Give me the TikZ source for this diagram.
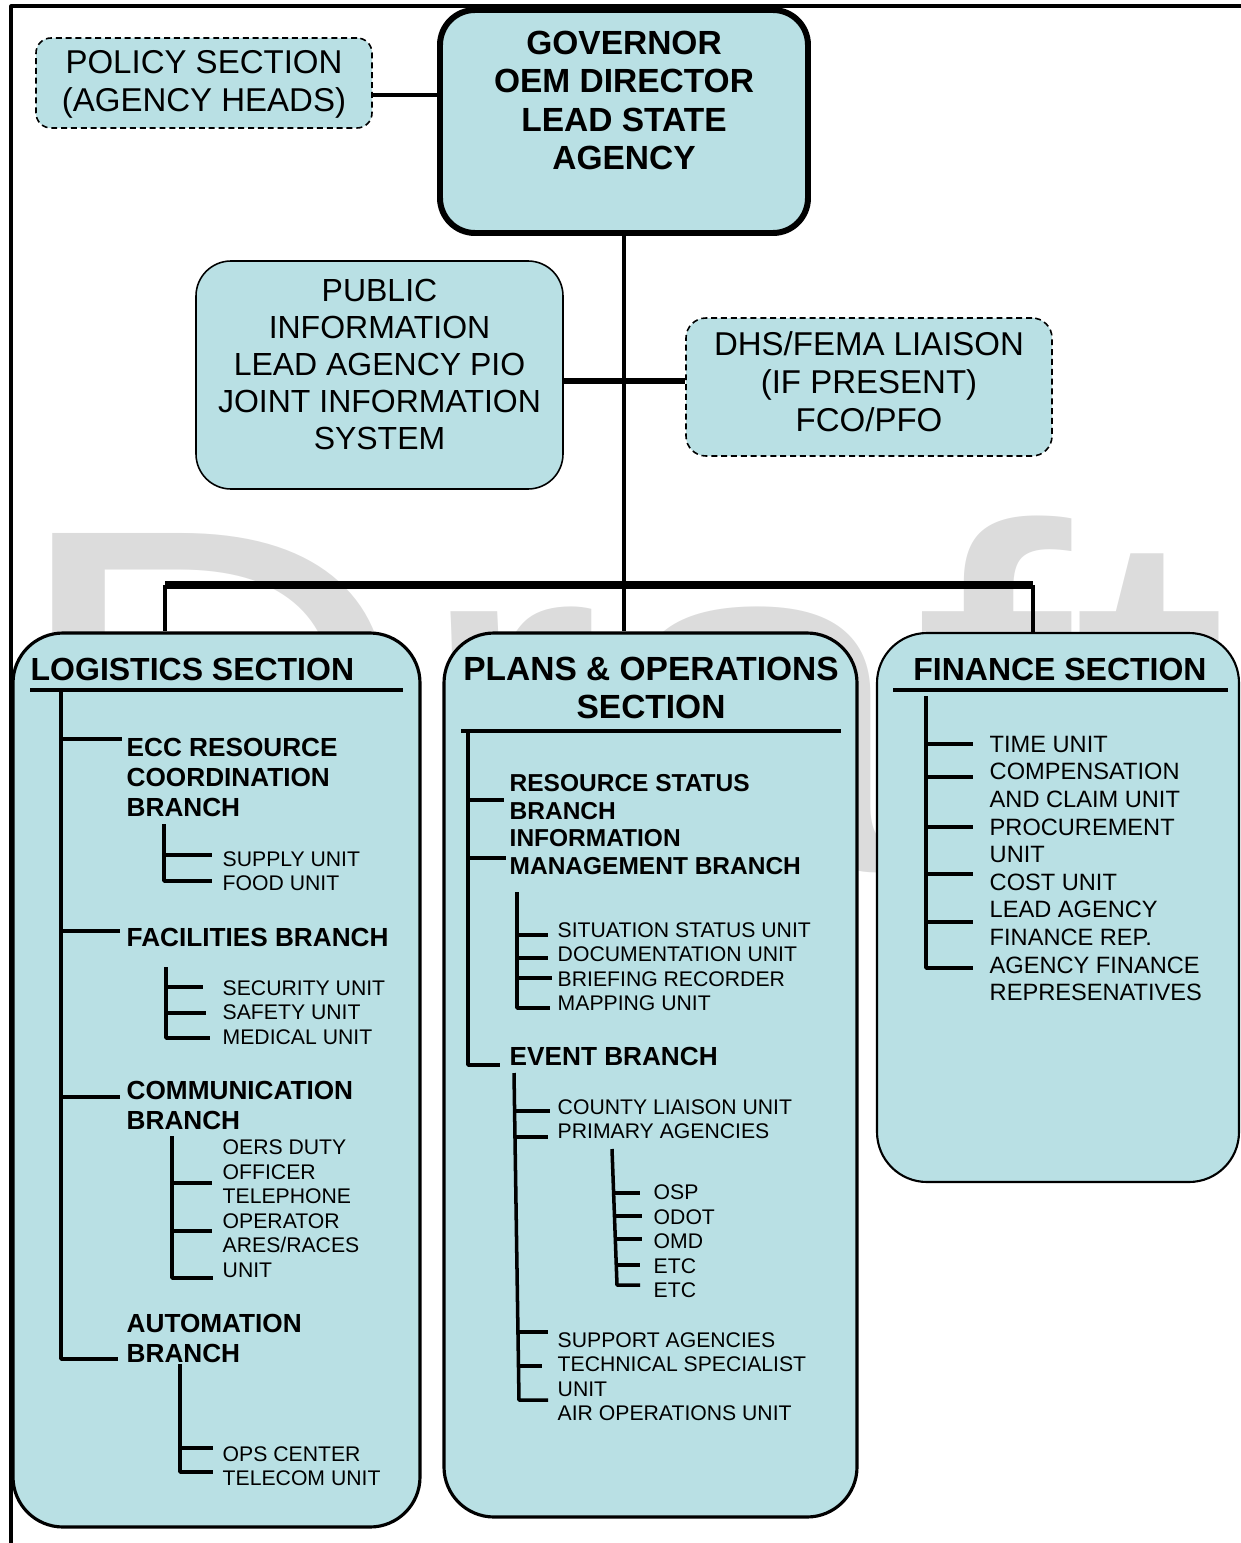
\documentclass[tikz,border=0pt]{standalone}
\usepackage{fontspec}
\setmainfont{Liberation Sans}
\usetikzlibrary{calc}
\definecolor{boxfill}{HTML}{B9E0E4}
\definecolor{wmark}{HTML}{DCDCDC}

\newcommand\topfont{\fontsize{9.39pt}{10.81pt}\selectfont}
\newcommand\piofont{\fontsize{9.10pt}{10.53pt}\selectfont}
\newcommand\govfont{\bfseries\fontsize{9.53pt}{10.95pt}\selectfont}
\newcommand\hdrfont{\bfseries\fontsize{9.10pt}{10.81pt}\selectfont}
\newcommand\opsfont{\bfseries\fontsize{9.53pt}{10.81pt}\selectfont}
\newcommand\brfont{\bfseries\fontsize{7.45pt}{8.54pt}\selectfont}
\newcommand\brfontb{\bfseries\fontsize{6.97pt}{7.97pt}\selectfont}
\newcommand\unfont{\fontsize{6.03pt}{6.97pt}\selectfont}
\newcommand\finfont{\fontsize{6.72pt}{7.85pt}\selectfont}

\begin{document}
\begin{tikzpicture}[x=0.1mm, y=-0.1mm, line join=round,
  panel/.style={draw, fill=boxfill, inner sep=0pt},
  dashbox/.style={panel, line width=0.45pt, dash pattern=on 1.7pt off 1.1pt, rounded corners=#1},
  section/.style={panel, line width=0.9pt, rounded corners=5mm},
  link/.style={line width=1.2pt},
  treeline/.style={line width=1pt},
  rule/.style={line width=1.15pt},
  txt/.style={inner sep=0pt, align=left, anchor=west},
  ctxt/.style={inner sep=0pt, align=center},
  brtxt/.style={txt, font=\brfont},
  untxt/.style={txt, font=\unfont}]
  \useasboundingbox (0,0) rectangle (1241,1543);

  % faint watermark behind everything
  \node[anchor=base west, inner sep=0pt, text=wmark,
        font=\fontsize{139.4pt}{139.4pt}\selectfont] (wm) at (6,870)
        {\scalebox{1.15}[1]{Draft}};

  % page frame
  \draw[line width=0.9pt] (11,1543) -- (11,6) -- (1241,6);

  % top level
  \node[panel, line width=1.7pt, rounded corners=3.5mm,
        minimum width=36.8mm, minimum height=22.3mm] (gov) at (624,121.5) {};
  \node[ctxt, font=\govfont] (govlbl) at (624,100.5)
        {GOVERNOR\\OEM DIRECTOR\\LEAD STATE\\AGENCY};
  \node[dashbox=1.5mm, minimum width=33.6mm, minimum height=9mm] (pol) at (204,83) {};
  \node[ctxt, font=\topfont] (pollbl) at (204,84.5) {POLICY SECTION\\(AGENCY HEADS)};
  \node[panel, line width=0.45pt, rounded corners=3.5mm,
        minimum width=36.7mm, minimum height=22.8mm] (pio) at (379.5,375) {};
  \node[ctxt, font=\piofont] (piolbl) at (379.5,364.5)
        {PUBLIC\\INFORMATION\\LEAD AGENCY PIO\\JOINT INFORMATION\\SYSTEM};
  \node[dashbox=2mm, minimum width=36.6mm, minimum height=13.8mm] (dhs) at (869,387) {};
  \node[ctxt, font=\topfont] (dhslbl) at (869,381.5)
        {DHS/FEMA LIAISON\\(IF PRESENT)\\FCO/PFO};

  % the three sections
  \node[section, minimum width=40.7mm, minimum height=89.4mm] (log) at (216.5,1080) {};
  \node[section, minimum width=41.3mm, minimum height=88.4mm] (ops) at (650.5,1075) {};
  \node[section, line width=0.6pt, minimum width=36.2mm, minimum height=54.9mm] (fin) at (1058,907.5) {};

  % connectors
  \draw[link] (pol.east |- 0,95) -- (gov.west |- 0,95);
  \draw[link] (gov.south) -- (gov.south |- ops.north);
  \draw[line width=1.7pt] (pio.east |- 0,381) -- (dhs.west |- 0,381);
  \coordinate (bl) at (165,585);
  \coordinate (br) at (1033,585);
  \draw[line width=2pt] (bl) -- (br);
  \draw[link] (bl) -- (bl |- log.north);
  \draw[link] (br) -- (br |- fin.north);

  % logistics
  \node[txt, font=\hdrfont] (loghdr) at (30,669) {LOGISTICS SECTION};
  \draw[rule] (30,690) -- (403,690);
  \draw[treeline] (61,692) -- (61,1359) -- (118,1359);
  \foreach \y/\e in {739/122, 931/120, 1097/120}
    \draw[treeline] (61,\y) -- (\e,\y);
  \node[brtxt] (ecc) at (126,777) {ECC RESOURCE\\COORDINATION\\BRANCH};
  \node[brtxt] (fac) at (126,937) {FACILITIES BRANCH};
  \node[brtxt] (com) at (126,1105) {COMMUNICATION\\BRANCH};
  \node[brtxt] (aut) at (126,1338) {AUTOMATION\\BRANCH};

  \draw[treeline] (164,824) -- (164,881) -- (212,881);
  \draw[treeline] (164,855) -- (212,855);
  \node[untxt] (eccu) at (222,871) {SUPPLY UNIT\\FOOD UNIT};
  \draw[treeline] (166,967) -- (166,1038) -- (210,1038);
  \foreach \y/\e in {987/203, 1013/206}
    \draw[treeline] (166,\y) -- (\e,\y);
  \node[untxt] (facu) at (222,1012.5) {SECURITY UNIT\\SAFETY UNIT\\MEDICAL UNIT};
  \draw[treeline] (172,1136) -- (172,1278) -- (213,1278);
  \foreach \y in {1183, 1231}
    \draw[treeline] (172,\y) -- (212,\y);
  \node[untxt] (comu) at (222,1208.5)
        {OERS DUTY\\OFFICER\\TELEPHONE\\OPERATOR\\ARES/RACES\\UNIT};
  \draw[treeline] (180,1364) -- (180,1472) -- (213,1472);
  \draw[treeline] (180,1448) -- (213,1448);
  \node[untxt] (autu) at (222,1466) {OPS CENTER\\TELECOM UNIT};

  % plans & operations
  \node[ctxt, font=\opsfont] (opshdr) at (651,688) {PLANS \& OPERATIONS\\SECTION};
  \draw[rule] (461,731) -- (841,731);
  \draw[treeline] (468,733) -- (468,1065) -- (500,1065);
  \foreach \y/\e in {800/504, 858/506}
    \draw[treeline] (468,\y) -- (\e,\y);
  \node[txt, font=\brfontb] (rsb) at (509,797) {RESOURCE STATUS\\BRANCH};
  \node[txt, font=\brfontb] (imb) at (509,852) {INFORMATION\\MANAGEMENT BRANCH};
  \node[brtxt] (evb) at (509,1056) {EVENT BRANCH};

  \draw[treeline] (517,892) -- (517,1008) -- (550,1008);
  \foreach \y/\e in {935/548, 958/548, 978/552}
    \draw[treeline] (517,\y) -- (\e,\y);
  \node[untxt] (imbu) at (557,966.5)
        {SITUATION STATUS UNIT\\DOCUMENTATION UNIT\\BRIEFING RECORDER\\MAPPING UNIT};
  \draw[treeline] (514,1073) -- (519,1400) -- (548,1400);
  \foreach \x/\y/\e in {514.6/1111/550, 515/1137/548, 518/1332/548, 518.5/1366/542}
    \draw[treeline] (\x,\y) -- (\e,\y);
  \node[untxt] (evbu) at (557,1119) {COUNTY LIAISON UNIT\\PRIMARY AGENCIES};
  \node[untxt] (supp) at (557,1376.5)
        {SUPPORT AGENCIES\\TECHNICAL SPECIALIST\\UNIT\\AIR OPERATIONS UNIT};
  \draw[treeline] (612,1149) -- (617,1285) -- (640,1285);
  \foreach \x/\y/\e in {613.6/1193/640, 614.5/1216/642, 615.3/1239/642, 616.3/1265/640}
    \draw[treeline] (\x,\y) -- (\e,\y);
  \node[untxt] (prim) at (653,1241.5) {OSP\\ODOT\\OMD\\ETC\\ETC};

  % finance
  \node[ctxt, font=\hdrfont] (finhdr) at (1060,669) {FINANCE SECTION};
  \draw[rule] (893,690) -- (1228,690);
  \draw[treeline] (926,696) -- (926,968) -- (973,968);
  \foreach \y in {744, 777, 827, 874, 922}
    \draw[treeline] (926,\y) -- (973,\y);
  \node[txt, font=\finfont] (finu) at (989,868.5)
        {TIME UNIT\\COMPENSATION\\AND CLAIM UNIT\\PROCUREMENT\\UNIT\\COST UNIT\\LEAD AGENCY\\FINANCE REP.\\AGENCY FINANCE\\REPRESENATIVES};
\end{tikzpicture}
\end{document}
